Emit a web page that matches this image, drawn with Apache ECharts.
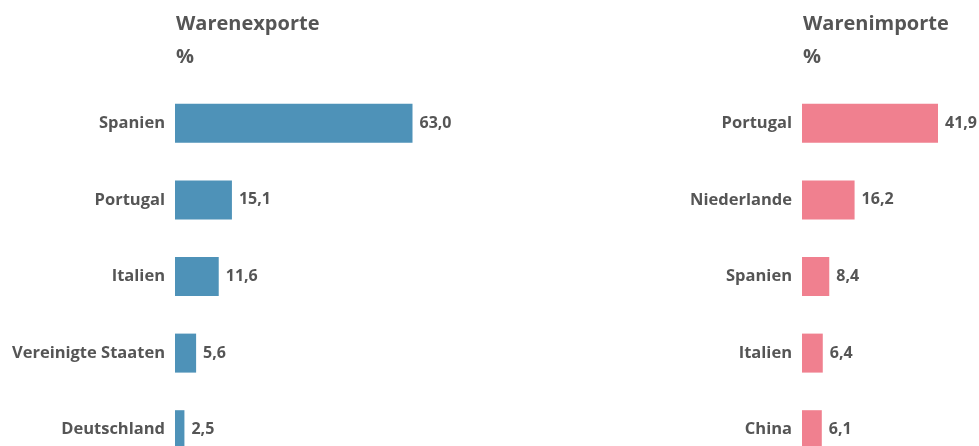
<!DOCTYPE html>
<html><head><meta charset="utf-8">
<script src="https://cdn.jsdelivr.net/npm/echarts@6/dist/echarts.min.js"></script>
<style>html,body{margin:0;padding:0;background:#fff}#c{width:979px;height:446px}</style>
</head><body><div id="c"></div>
<script>
const exportCategories = ["Spanien","Portugal","Italien","Vereinigte Staaten","Deutschland"];
const exportValues = [63.0, 15.1, 11.6, 5.6, 2.5];
const importCategories = ["Portugal","Niederlande","Spanien","Italien","China"];
const importValues = [41.9, 16.2, 8.4, 6.4, 6.1];

const FONT = "'Open Sans', sans-serif";
const TXT = '#555555';
const fmt = v => v.toFixed(1).replace('.', ',');

const chart = echarts.init(document.getElementById('c'));
const gridTop = 85, gridHeight = 383;
function yAxis(idx, cats){
  return {type:'category', gridIndex:idx, data:cats, inverse:true,
    axisLine:{show:false}, axisTick:{show:false}, splitLine:{show:false},
    axisLabel:{color:TXT, fontFamily:FONT, fontWeight:'bold', fontSize:16.5, margin:10}};
}
function xAxis(idx, max){
  return {type:'value', gridIndex:idx, min:0, max:max, show:false, splitLine:{show:false}};
}
function series(idx, vals, color){
  return {type:'bar', xAxisIndex:idx, yAxisIndex:idx, data:vals, barWidth:39,
    itemStyle:{color:color}, silent:true,
    label:{show:true, position:'right', distance:7, color:TXT, fontFamily:FONT, fontWeight:'bold', fontSize:16,
      formatter:p=>fmt(p.value)}};
}
chart.setOption({
  animation:false,
  title:[
    {text:'Warenexporte\n%', left:171, top:3, textStyle:{color:TXT, fontFamily:FONT, fontWeight:'bold', fontSize:20, lineHeight:33}},
    {text:'Warenimporte\n%', left:798, top:3, textStyle:{color:TXT, fontFamily:FONT, fontWeight:'bold', fontSize:20, lineHeight:33}}
  ],
  grid:[
    {left:175, width:237.5, top:gridTop, height:gridHeight, containLabel:false, outerBoundsMode:'none'},
    {left:802, width:136, top:gridTop, height:gridHeight, containLabel:false, outerBoundsMode:'none'}
  ],
  xAxis:[xAxis(0,63.0), xAxis(1,41.9)],
  yAxis:[yAxis(0,exportCategories), yAxis(1,importCategories)],
  series:[series(0,exportValues,'#4E92B8'), series(1,importValues,'#F0808F')]
});
</script></body></html>
